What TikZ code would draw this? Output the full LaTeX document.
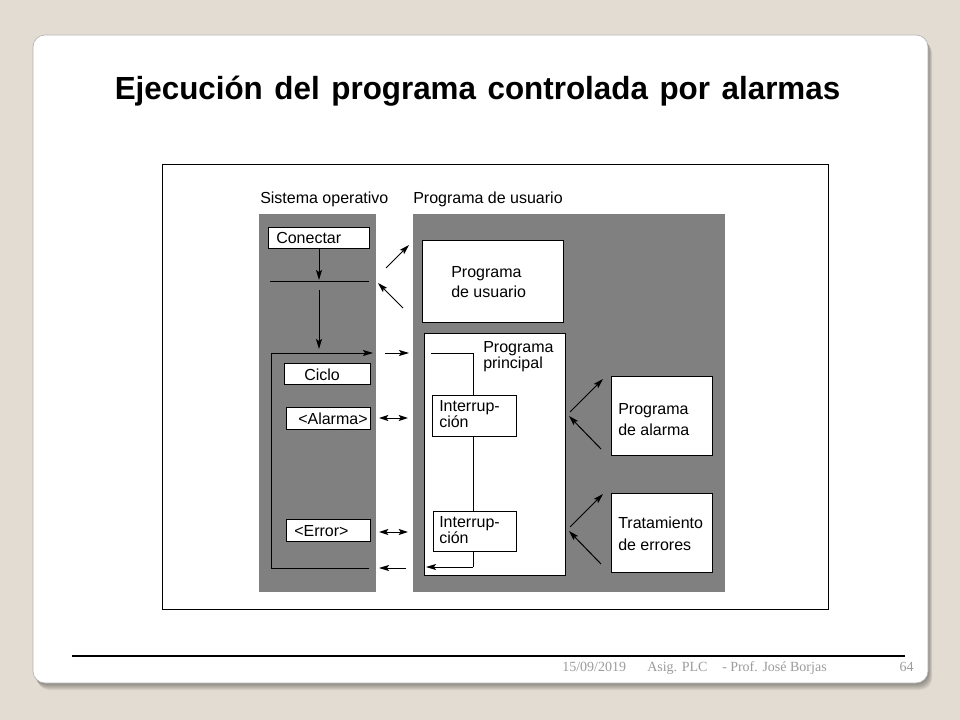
\documentclass[tikz,border=0pt]{standalone}
\usepackage{fontspec}
\setmainfont{Liberation Sans}
\newfontfamily\titlefont[FakeStretch=0.98]{Liberation Sans}
\newfontfamily\footfont{Liberation Serif}
\usetikzlibrary{arrows.meta,fit}
\definecolor{bg}{HTML}{E2DCD2}
\definecolor{panel}{HTML}{808080}
\definecolor{foot}{HTML}{9C9C9C}
\newcommand{\tsp}{\hspace{8.7pt}}
\begin{document}
\begin{tikzpicture}[x=0.75pt,y=-0.75pt,
  bx/.style={draw=black, line width=0.75pt, fill=white, inner sep=0pt},
  pnl/.style={fill=panel, draw=none, inner sep=0pt},
  lbl/.style={font=\fontsize{12}{14}\selectfont, inner sep=0pt, anchor=base west},
  ftxt/.style={font=\footfont\fontsize{10.5}{12}\selectfont, text=foot, inner sep=0pt, anchor=base west},
  ln/.style={line width=0.75pt},
  arr/.style={line width=0.75pt, -{Stealth[length=7.5pt,width=4.5pt,inset=1.5pt]}},
  darr/.style={line width=0.75pt, {Stealth[length=7pt,width=4.5pt,inset=1.5pt]}-{Stealth[length=7pt,width=4.5pt,inset=1.5pt]}},
]
\useasboundingbox (0,0) rectangle (960,720);
\fill[bg] (0,0) rectangle (960,720);
% slide shadow and slide
\foreach \d in {1,...,7}{
  \fill[black, opacity=0.06, rounded corners=9pt] (33+0.6*\d,35+\d) rectangle (928+0.6*\d,683+\d);
}
\fill[white, draw=black!30, line width=0.5pt, rounded corners=9pt] (33,35) rectangle (928,683);

% title
\node[font=\titlefont\bfseries\fontsize{24}{28}\selectfont, anchor=base, inner sep=0pt] (title) at (477.5,100) {Ejecución\tsp del\tsp programa\tsp controlada\tsp por\tsp alarmas};

% frame
\node[draw=black, line width=0.75pt, inner sep=0pt, fit={(162,165)(828,609)}] (frame) {};

% headers
\node[lbl] (hso) at (260,204) {Sistema operativo};
\node[lbl] (hpu) at (413,204) {Programa de usuario};

% panels
\node[pnl, fit={(259,214)(376,592)}] (lpanel) {};
\node[pnl, fit={(413,214)(725,592)}] (rpanel) {};

% left boxes
\node[bx, fit={(268,228)(369,249)}] (conectar) {};
\node[lbl] (tcon) at (276,244) {Conectar};
\node[bx, fit={(284,363)(370,384)}] (ciclo) {};
\node[lbl] (tcic) at (304,380) {Ciclo};
\node[bx, fit={(286,407)(370,429)}] (alarma) {};
\node[lbl] (tal) at (298,424) {<Alarma>};
\node[bx, fit={(286,519)(370,541)}] (error) {};
\node[lbl] (terr) at (294,536) {<Error>};

% right boxes
\node[bx, fit={(422,241)(563,322)}] (pu) {};
\node[lbl] (tpu1) at (451,277) {Programa};
\node[lbl] (tpu2) at (451,297) {de usuario};
\node[bx, fit={(424,333)(565,575)}] (pp) {};
\node[lbl] (tpp1) at (483,352) {Programa};
\node[lbl] (tpp2) at (483,368) {principal};
\node[bx, fit={(432,395)(516,436)}] (int1) {};
\node[lbl] (ti11) at (439,411) {Interrup-};
\node[lbl] (ti12) at (439,427) {ción};
\node[bx, fit={(433,511)(516,551)}] (int2) {};
\node[lbl] (ti21) at (439,527) {Interrup-};
\node[lbl] (ti22) at (439,543) {ción};
\node[bx, fit={(611,376)(712,455)}] (pa) {};
\node[lbl] (tpa1) at (618,414) {Programa};
\node[lbl] (tpa2) at (618,435) {de alarma};
\node[bx, fit={(611,493)(712,572)}] (te) {};
\node[lbl] (tte1) at (618,528) {Tratamiento};
\node[lbl] (tte2) at (618,550) {de errores};

% left panel flow
\coordinate (hlL) at (270,282);
\coordinate (hlR) at (369,282);
\draw[ln] (hlL) -- (hlR);
\coordinate (a1e) at (319,280);
\draw[arr] (conectar.south -| a1e) -- (a1e);
\coordinate (a2s) at (319,290);
\coordinate (a2e) at (319,349);
\draw[arr] (a2s) -- (a2e);
\coordinate (loopB) at (369,568);
\coordinate (loopBL) at (271,568);
\coordinate (loopTL) at (271,353);
\coordinate (loopT) at (373,353);
\draw[ln] (loopB) -- (loopBL) -- (loopTL);
\draw[arr] (loopTL) -- (loopT);

% gap arrows
\coordinate (g1s) at (386,268);
\coordinate (g1e) at (409,245);
\draw[arr] (g1s) -- (g1e);
\coordinate (g2s) at (403,308);
\coordinate (g2e) at (378,283);
\draw[arr] (g2s) -- (g2e);
\coordinate (g3s) at (385,353);
\coordinate (g3e) at (409,353);
\draw[arr] (g3s) -- (g3e);
\coordinate (g4s) at (379,418);
\coordinate (g4e) at (408,418);
\draw[darr] (g4s) -- (g4e);
\coordinate (g5s) at (379,532);
\coordinate (g5e) at (408,532);
\draw[darr] (g5s) -- (g5e);
\coordinate (g6s) at (406,568);
\coordinate (g6e) at (379,568);
\draw[arr] (g6s) -- (g6e);

% main program flow
\coordinate (mp0) at (431,353);
\coordinate (mp1) at (473,353);
\draw[ln] (mp0) -- (mp1) -- (int1.north -| mp1);
\draw[ln] (int1.south -| mp1) -- (int2.north -| mp1);
\coordinate (mp2) at (473,567);
\coordinate (mp3) at (426,567);
\draw[ln] (int2.south -| mp1) -- (mp2);
\draw[arr] (mp2) -- (mp3);

% right diagonal arrows
\coordinate (r1s) at (570,412);
\coordinate (r1e) at (603,379);
\draw[arr] (r1s) -- (r1e);
\coordinate (r2s) at (601,449);
\coordinate (r2e) at (569,416);
\draw[arr] (r2s) -- (r2e);
\coordinate (r3s) at (570,527);
\coordinate (r3e) at (603,494);
\draw[arr] (r3s) -- (r3e);
\coordinate (r4s) at (601,564);
\coordinate (r4e) at (569,531);
\draw[arr] (r4s) -- (r4e);

% footer
\coordinate (fl0) at (72,656);
\coordinate (fl1) at (905,656);
\draw[line width=0.9pt] (fl0) -- (fl1);
\node[ftxt] (fdate) at (562,671) {15/09/2019};
\node[ftxt] (fasig) at (647,671) {Asig. PLC};
\node[ftxt] (fdash) at (722,671) {-};
\node[ftxt] (fprof) at (730,671) {Prof. José Borjas};
\node[ftxt, anchor=base east] (fpage) at (914,671) {64};
\end{tikzpicture}
\end{document}
